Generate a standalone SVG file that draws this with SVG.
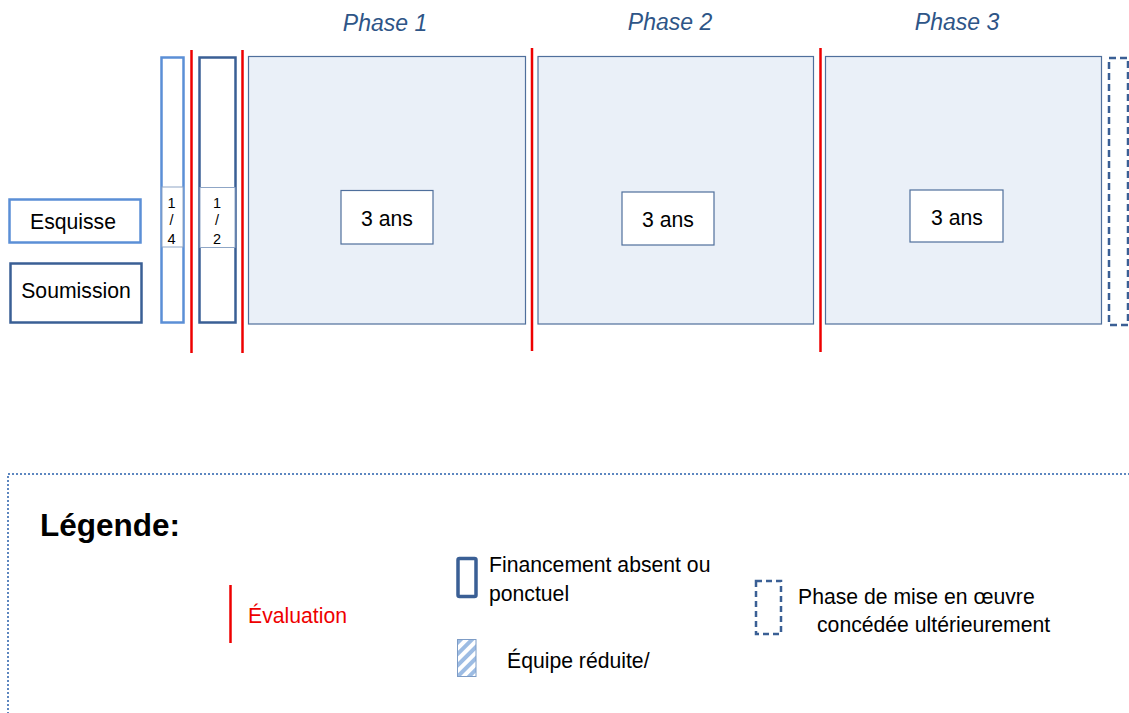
<svg xmlns="http://www.w3.org/2000/svg" width="1129" height="713" viewBox="0 0 1129 713">
  <style>
    text { font-family: "Liberation Sans", Arial, sans-serif; fill: #000; }
    .lbl { font-size: 21.2px; }
    .small { font-size: 14.5px; text-anchor: middle; }
    .phase-title { font-size: 23px; font-style: italic; fill: #2e5587; text-anchor: middle; }
    .phase { fill: #eaf0f8; stroke: #4f6f9c; stroke-width: 1.2; }
    .dur { fill: #ffffff; stroke: #4f6f9c; stroke-width: 1.2; }
    .light { fill: #ffffff; stroke: #5b8fd6; stroke-width: 2.5; }
    .dark { fill: #ffffff; stroke: #3a5f95; stroke-width: 2.5; }
    .inner { fill: #ffffff; stroke: #8fa6c6; stroke-width: 1; }
    .eval { stroke: #ee0000; stroke-width: 2.5; fill: none; }
    .later { fill: #ffffff; stroke: #3a5f95; stroke-width: 2.5; stroke-dasharray: 7 4; }
  </style>
  <defs>
    <pattern id="hatch" patternUnits="userSpaceOnUse" width="8" height="8" patternTransform="rotate(45)">
      <rect width="8" height="8" fill="#ffffff"/>
      <rect width="4" height="8" fill="#9dbce3"/>
    </pattern>
  </defs>

  <rect width="1129" height="713" fill="#ffffff"/>

  <!-- phase headings -->
  <text class="phase-title" x="385" y="30.5">Phase 1</text>
  <text class="phase-title" x="670" y="29.5">Phase 2</text>
  <text class="phase-title" x="957" y="29.5">Phase 3</text>

  <!-- entry tracks -->
  <g id="esquisse">
    <rect class="light" x="9.5" y="199.5" width="131" height="43"/>
    <text class="lbl" x="73" y="228.5" text-anchor="middle">Esquisse</text>
  </g>
  <g id="soumission">
    <rect class="dark" x="10.5" y="263.5" width="131" height="59"/>
    <text class="lbl" x="76" y="297.5" text-anchor="middle">Soumission</text>
  </g>

  <!-- short preparatory steps -->
  <g id="quart">
    <rect class="light" x="161.5" y="57.5" width="22" height="265"/>
    <rect class="inner" x="162" y="187" width="21" height="60"/>
    <text class="small" x="171.5" y="207.5">1</text>
    <text class="small" x="171.5" y="225">/</text>
    <text class="small" x="171.5" y="243.5">4</text>
  </g>
  <g id="demi">
    <rect class="dark" x="199.5" y="57.5" width="36" height="265"/>
    <rect class="inner" x="200" y="187.5" width="35" height="60"/>
    <text class="small" x="217" y="207.5">1</text>
    <text class="small" x="217" y="225">/</text>
    <text class="small" x="217" y="243.5">2</text>
  </g>

  <!-- implementation phases -->
  <g id="phase1">
    <rect class="phase" x="248.5" y="56.5" width="277" height="267.5"/>
    <rect class="dur" x="341" y="190.5" width="92" height="53.5"/>
    <text class="lbl" x="387" y="225.5" text-anchor="middle">3 ans</text>
  </g>
  <g id="phase2">
    <rect class="phase" x="538" y="56.5" width="275.5" height="267.5"/>
    <rect class="dur" x="622" y="192" width="92" height="53"/>
    <text class="lbl" x="668" y="226.5" text-anchor="middle">3 ans</text>
  </g>
  <g id="phase3">
    <rect class="phase" x="825.5" y="56.5" width="276" height="267.5"/>
    <rect class="dur" x="910" y="190" width="93" height="52"/>
    <text class="lbl" x="957" y="224.5" text-anchor="middle">3 ans</text>
  </g>
  <g id="phase-ulterieure">
    <rect class="later" x="1109" y="58" width="19" height="267"/>
  </g>

  <!-- evaluation markers -->
  <g id="evaluations">
    <line class="eval" x1="191.5" y1="50" x2="191.5" y2="353"/>
    <line class="eval" x1="242.5" y1="50" x2="242.5" y2="353"/>
    <line class="eval" x1="532" y1="48" x2="532" y2="351"/>
    <line class="eval" x1="820.5" y1="48" x2="820.5" y2="352"/>
  </g>

  <!-- legend -->
  <g id="legende">
    <path d="M8 714 V474 H1130" fill="none" stroke="#5d87c0" stroke-width="2" stroke-dasharray="2 2"/>
    <text x="40" y="536" font-size="31.5px" font-weight="bold">Légende:</text>

    <line class="eval" x1="230.5" y1="585" x2="230.5" y2="643"/>
    <text class="lbl" x="248" y="623" style="fill:#ee0000">Évaluation</text>

    <rect x="458" y="558.5" width="18" height="38" rx="1.5" fill="#ffffff" stroke="#3a5f95" stroke-width="3.5"/>
    <text class="lbl" x="489" y="572">Financement absent ou</text>
    <text class="lbl" x="489" y="601">ponctuel</text>

    <rect x="457.5" y="639.5" width="18.5" height="37" fill="url(#hatch)" stroke="#7d9cc6" stroke-width="1"/>
    <text class="lbl" x="507" y="668">Équipe réduite/</text>

    <rect x="756" y="581" width="25" height="53" fill="#ffffff" stroke="#3a5f95" stroke-width="2.5" stroke-dasharray="6 4"/>
    <text class="lbl" x="798" y="604">Phase de mise en œuvre</text>
    <text class="lbl" x="817" y="632">concédée ultérieurement</text>
  </g>
</svg>
